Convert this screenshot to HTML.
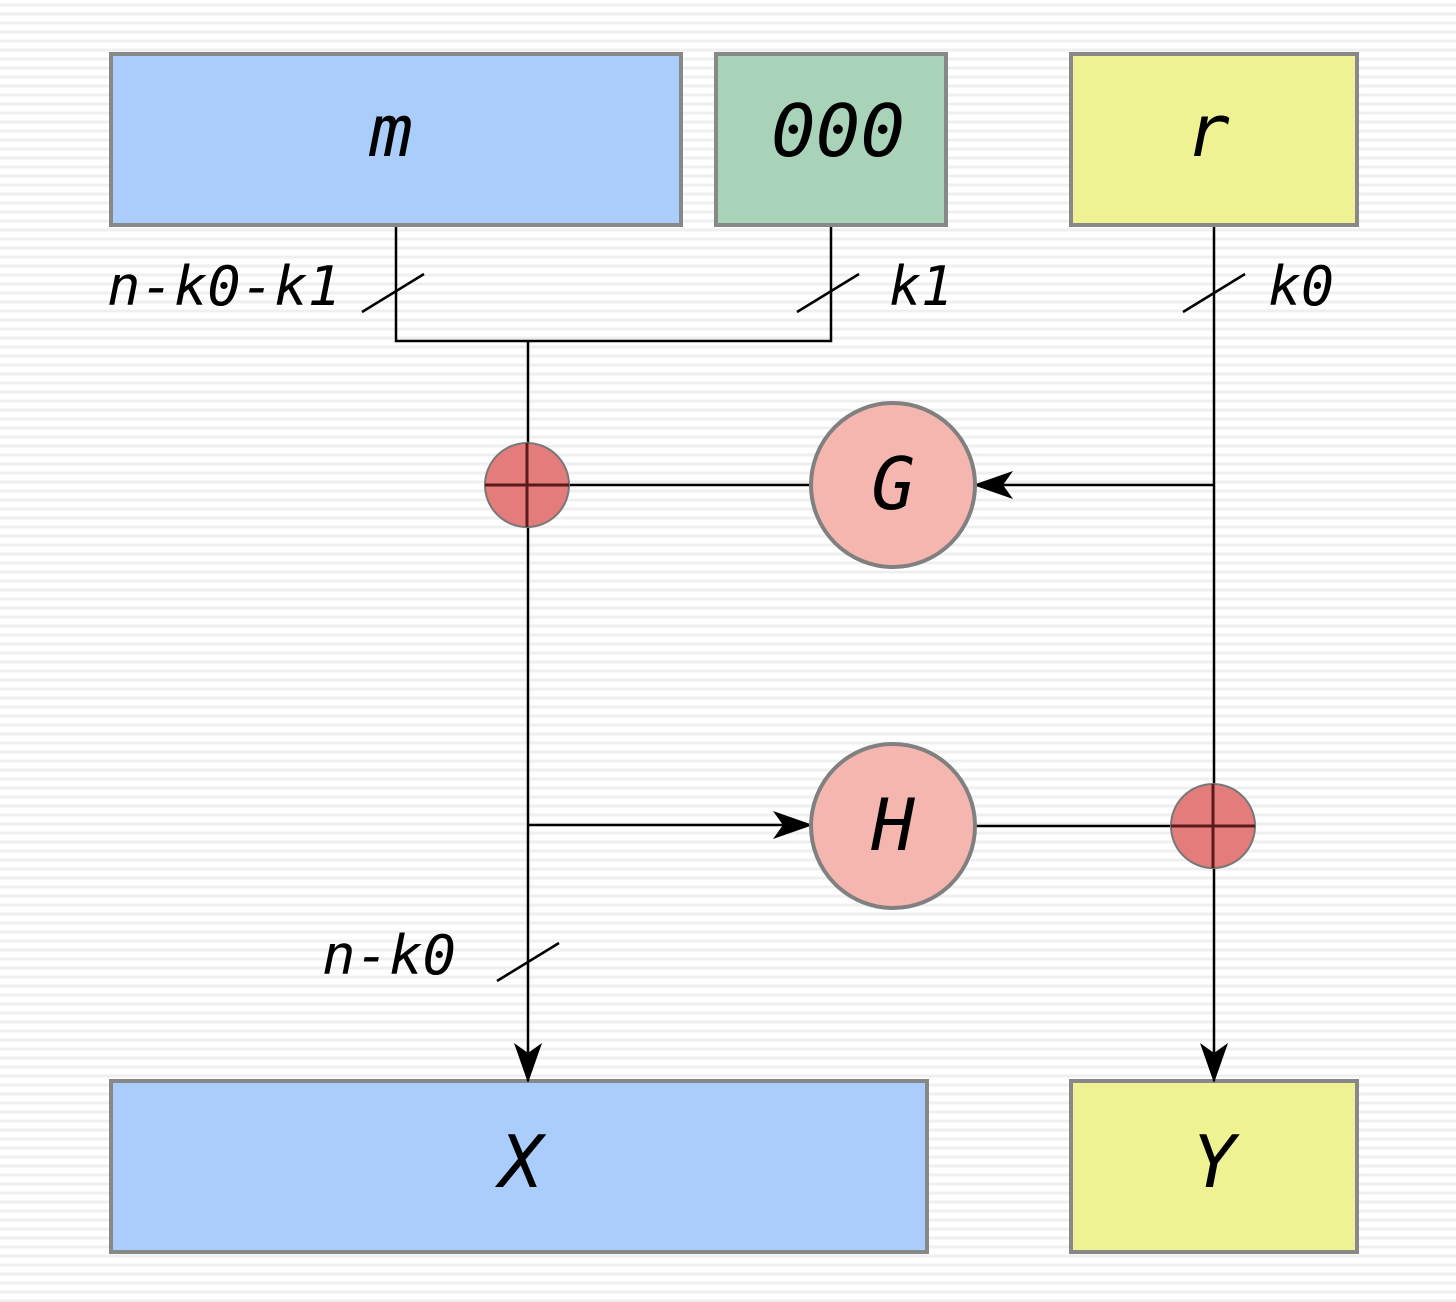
<!DOCTYPE html>
<html><head><meta charset="utf-8"><style>
html,body{margin:0;padding:0;}
body{width:1456px;height:1302px;overflow:hidden;background:#fff repeating-linear-gradient(to bottom,#fff 0px,#fff 3px,#efefef 4px,#efefef 6px,#fff 7px,#fff 9px);}
svg{position:absolute;left:0;top:0;}
text{font-family:"DejaVu Sans Mono","Liberation Mono",monospace;font-style:italic;fill:#000;}
</style></head><body>
<svg width="1456" height="1302" viewBox="0 0 1456 1302">
<defs>
<marker id="a" markerWidth="12" markerHeight="12" refX="11" refY="6" orient="auto" markerUnits="userSpaceOnUse" viewBox="0 0 12 12"><path d="M0,0 L12,6 L0,12 L4,6 Z" fill="#000"/></marker>
<marker id="b" markerWidth="40" markerHeight="40" refX="38" refY="20" orient="auto" markerUnits="userSpaceOnUse" viewBox="0 0 40 40"><path d="M0,6 L40,20 L0,34 L10,20 Z" fill="#000"/></marker>
</defs>
<g stroke="#888" stroke-width="4">
<rect x="111" y="54" width="570" height="171" fill="#abcdfb"/>
<rect x="716" y="54" width="230" height="171" fill="#a9d3b9"/>
<rect x="1071" y="54" width="286" height="171" fill="#eef293"/>
<rect x="111" y="1081" width="816" height="171" fill="#abcdfb"/>
<rect x="1071" y="1081" width="286" height="171" fill="#eef293"/>
</g>
<g stroke="#000" stroke-width="2.5" fill="none">
<polyline points="396,227 396,341 831,341 831,227"/>
<line x1="528" y1="341" x2="528" y2="1081" marker-end="url(#b)"/>
<line x1="1214" y1="227" x2="1214" y2="1081" marker-end="url(#b)"/>
<line x1="569" y1="485" x2="811" y2="485"/>
<line x1="1214" y1="485" x2="975" y2="485" marker-end="url(#b)"/>
<line x1="528" y1="825" x2="811" y2="825" marker-end="url(#b)"/>
<line x1="975" y1="826" x2="1171" y2="826"/>
<line x1="362" y1="312" x2="424" y2="274"/>
<line x1="797" y1="312" x2="859" y2="274"/>
<line x1="1183" y1="312" x2="1245" y2="274"/>
<line x1="497" y1="981" x2="559" y2="943"/>
</g>
<g stroke="#808080" stroke-width="4" fill="#f4b6ae">
<circle cx="893" cy="485" r="82"/>
<circle cx="893" cy="826" r="82"/>
</g>
<g stroke="#777" stroke-width="2" fill="#e47c7c">
<circle cx="527" cy="485" r="42"/>
<circle cx="1213" cy="826" r="42"/>
</g>
<g stroke="#5a1a1a" stroke-width="3">
<line x1="485" y1="485" x2="569" y2="485"/><line x1="527" y1="443" x2="527" y2="527"/>
<line x1="1171" y1="826" x2="1255" y2="826"/><line x1="1213" y1="784" x2="1213" y2="868"/>
</g>
<g font-size="72" text-anchor="middle">
<text x="391" y="156">m</text>
<text x="838" y="156" textLength="134" lengthAdjust="spacingAndGlyphs">000</text>
<text x="1208" y="156">r</text>
<text x="893" y="509">G</text>
<text x="893" y="850">H</text>
<text x="521" y="1187">X</text>
<text x="1214" y="1187">Y</text>
</g>
<g font-size="54">
<text x="107" y="305" textLength="234" lengthAdjust="spacingAndGlyphs">n-k0-k1</text>
<text x="889" y="305" textLength="64" lengthAdjust="spacingAndGlyphs">k1</text>
<text x="1268" y="305" textLength="66" lengthAdjust="spacingAndGlyphs">k0</text>
<text x="322" y="974" textLength="134" lengthAdjust="spacingAndGlyphs">n-k0</text>
</g>
</svg>
</body></html>
